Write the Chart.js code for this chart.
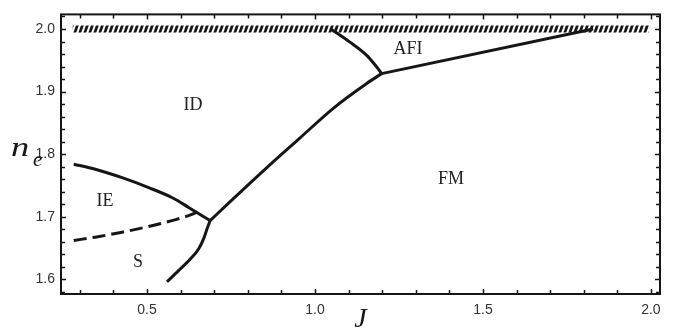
<!DOCTYPE html>
<html><head><meta charset="utf-8">
<script src="https://cdn.jsdelivr.net/npm/chart.js@4/dist/chart.umd.min.js"></script>
<style>html,body{margin:0;padding:0;background:#fff}#wrap{width:673px;height:329px}</style>
</head><body><div id="wrap"><canvas id="c" width="673" height="329"></canvas></div>
<script>
// ---- data (J, n_e) ----
const upperIE_J = [0.282, 0.346, 0.426, 0.505, 0.574, 0.624, 0.664, 0.688];
const upperIE_n = [1.784, 1.776, 1.7625, 1.7466, 1.7308, 1.715, 1.7018, 1.694];
const dashedIE_J = [0.282, 0.346, 0.426, 0.505, 0.574, 0.624, 0.659];
const dashedIE_n = [1.6622, 1.6675, 1.6754, 1.6845, 1.6939, 1.7018, 1.7097];
const lowerS_J = [0.5595, 0.594, 0.629, 0.654, 0.669, 0.679, 0.688];
const lowerS_n = [1.5962, 1.614, 1.6326, 1.6491, 1.6655, 1.6813, 1.694];
const diag_J = [0.688, 0.757, 0.856, 0.955, 1.0545, 1.154, 1.1985];
const diag_n = [1.694, 1.729, 1.7783, 1.8258, 1.8733, 1.9129, 1.9287];
const afiLeft_J = [1.047, 1.104, 1.154, 1.1836, 1.1985];
const afiLeft_n = [2.0, 1.979, 1.9579, 1.9394, 1.9287];
const afiRight_J = [1.1985, 1.828];
const afiRight_n = [1.9287, 2.0];
const band_J = [0.279, 1.994];
const band_n = [2.0, 2.0];
const xTickValues = [0.5, 1.0, 1.5, 2.0];
const xTickLabels = ['0.5', '1.0', '1.5', '2.0'];
const yTickValues = [1.6, 1.7, 1.8, 1.9, 2.0];
const yTickLabels = ['1.6', '1.7', '1.8', '1.9', '2.0'];
const regionNames = ['ID', 'AFI', 'FM', 'IE', 'S'];
const regionJ = [0.637, 1.277, 1.405, 0.375, 0.473];
const regionN = [1.8776, 1.967, 1.760, 1.7256, 1.627];

const pts = (xs, ys) => xs.map((x, i) => ({x, y: ys[i]}));

function hatch() {
  const c = document.createElement('canvas');
  c.width = 5; c.height = 14;
  const g = c.getContext('2d');
  g.fillStyle = '#161616';
  for (const o of [-5, 0, 5]) {
    g.beginPath();
    g.moveTo(o, 14); g.lineTo(o + 2.9, 14); g.lineTo(o + 7.9, 0); g.lineTo(o + 5, 0);
    g.closePath(); g.fill();
  }
  return g.createPattern(c, 'repeat');
}

const LINE = '#161616';
const base = {showLine: true, pointRadius: 0, borderColor: LINE, borderWidth: 3, fill: false,
  borderCapStyle: 'butt', borderJoinStyle: 'round', cubicInterpolationMode: 'monotone'};

const framePlugin = {
  id: 'frame',
  beforeDraw(chart) {
    const ctx = chart.ctx;
    ctx.save(); ctx.fillStyle = '#fff'; ctx.fillRect(0, 0, chart.width, chart.height); ctx.restore();
  },
  afterDraw(chart) {
    const {ctx, chartArea: a, scales} = chart;
    const xs = scales.x, ys = scales.y;
    ctx.save();
    ctx.strokeStyle = '#161616';
    ctx.lineWidth = 1.5;
    for (let k = 3; k <= 20; k++) {
      const v = k / 10;
      const px = Math.round(xs.getPixelForValue(v)) + 0.5;
      const len = (k % 5 === 0) ? 5 : 4;
      ctx.beginPath();
      ctx.moveTo(px, a.bottom); ctx.lineTo(px, a.bottom - len);
      ctx.moveTo(px, a.top); ctx.lineTo(px, a.top + len);
      ctx.stroke();
    }
    for (let k = 79; k <= 101; k++) {
      const v = k / 50;
      const py = Math.round(ys.getPixelForValue(v)) + 0.5;
      const len = (k % 5 === 0) ? 5 : 4;
      ctx.beginPath();
      ctx.moveTo(a.left, py); ctx.lineTo(a.left + len, py);
      ctx.moveTo(a.right, py); ctx.lineTo(a.right - len, py);
      ctx.stroke();
    }
    ctx.lineWidth = 2;
    ctx.strokeRect(a.left, a.top, a.right - a.left, a.bottom - a.top);
    // region labels
    ctx.fillStyle = '#222';
    ctx.font = '18px "Liberation Serif", serif';
    ctx.textAlign = 'center'; ctx.textBaseline = 'middle';
    regionNames.forEach((t, i) => {
      ctx.fillText(t, xs.getPixelForValue(regionJ[i]), ys.getPixelForValue(regionN[i]));
    });
    // axis titles
    ctx.fillStyle = '#161616';
    ctx.textBaseline = 'alphabetic';
    ctx.textAlign = 'left';
    const yl = ys.getPixelForValue(1.8) + 2;
    ctx.save();
    ctx.translate(11, yl);
    ctx.scale(1.3, 1);
    ctx.font = 'italic 28px "Liberation Serif", serif';
    ctx.fillText('n', 0, 0);
    ctx.restore();
    ctx.font = 'italic 21px "Liberation Serif", serif';
    ctx.fillText('e', 33, yl + 10);
    ctx.font = 'italic 28px "Liberation Serif", serif';
    ctx.textAlign = 'center';
    ctx.fillText('J', (a.left + a.right) / 2, 327);
    ctx.restore();
  }
};

new Chart(document.getElementById('c'), {
  type: 'scatter',
  data: {
    datasets: [
      Object.assign({}, base, {data: pts(band_J, band_n), borderColor: hatch(), borderWidth: 7, cubicInterpolationMode: 'default', tension: 0}),
      Object.assign({}, base, {data: pts(upperIE_J, upperIE_n)}),
      Object.assign({}, base, {data: pts(dashedIE_J, dashedIE_n), borderDash: [13, 6]}),
      Object.assign({}, base, {data: pts(lowerS_J, lowerS_n)}),
      Object.assign({}, base, {data: pts(diag_J, diag_n)}),
      Object.assign({}, base, {data: pts(afiLeft_J, afiLeft_n)}),
      Object.assign({}, base, {data: pts(afiRight_J, afiRight_n), cubicInterpolationMode: 'default', tension: 0})
    ]
  },
  options: {
    responsive: false,
    animation: false,
    events: [],
    layout: {padding: {left: 0, top: 12, right: 13, bottom: 0}},
    plugins: {legend: {display: false}, tooltip: {enabled: false}},
    scales: {
      x: {
        type: 'linear', min: 0.244, max: 2.027,
        grid: {display: false, drawTicks: false}, border: {display: false},
        afterFit(s) { s.height = 35; },
        afterBuildTicks(s) { s.ticks = xTickValues.map(v => ({value: v})); },
        ticks: {
          padding: 8, color: '#333', font: {family: '"Liberation Sans", Arial, sans-serif', size: 14},
          autoSkip: false, maxRotation: 0,
          callback(v) { const i = xTickValues.indexOf(v); return i >= 0 ? xTickLabels[i] : ''; }
        }
      },
      y: {
        type: 'linear', min: 1.5767, max: 2.0233,
        grid: {display: false, drawTicks: false}, border: {display: false},
        afterFit(s) { s.width = 61; },
        afterBuildTicks(s) { s.ticks = yTickValues.map(v => ({value: v})); },
        ticks: {
          padding: 6, color: '#333', font: {family: '"Liberation Sans", Arial, sans-serif', size: 14},
          autoSkip: false,
          callback(v) { const i = yTickValues.findIndex(t => Math.abs(t - v) < 1e-9); return i >= 0 ? yTickLabels[i] : ''; }
        }
      }
    }
  },
  plugins: [framePlugin]
});
</script>
</body></html>
